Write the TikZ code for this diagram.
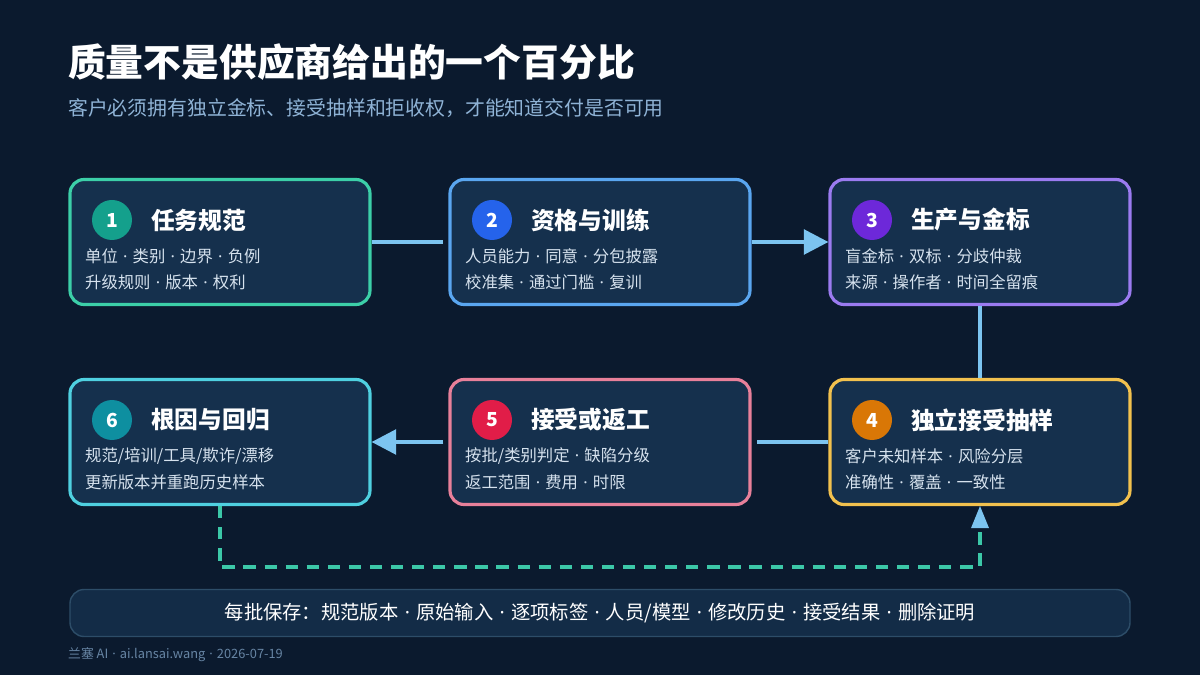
\documentclass[tikz,border=0pt]{standalone}
\usepackage{fontspec}
\setmainfont{Noto Sans CJK SC}
\newfontfamily\latf{Noto Sans}
\newcommand{\dt}{\hspace{0.32em}{\latf ·}\hspace{0.32em}}
\usetikzlibrary{arrows.meta}
\definecolor{bg}{HTML}{0B1A2E}
\definecolor{boxf}{HTML}{15304D}
\definecolor{conn}{HTML}{7CC4F0}
\definecolor{sub}{HTML}{8FB3D6}
\definecolor{body}{HTML}{D6E2EE}
\definecolor{e1}{HTML}{3CCFA8}\definecolor{e2}{HTML}{5AA6F0}\definecolor{e3}{HTML}{9B7BF0}
\definecolor{e4}{HTML}{F2C14E}\definecolor{e5}{HTML}{E8809A}\definecolor{e6}{HTML}{4FD0E0}
\definecolor{c1}{HTML}{14A08C}\definecolor{c2}{HTML}{2563EB}\definecolor{c3}{HTML}{6D28D9}
\definecolor{c4}{HTML}{D97706}\definecolor{c5}{HTML}{E11D48}\definecolor{c6}{HTML}{0E8FA0}
\definecolor{dash}{HTML}{3CC8A8}
\begin{document}
\begin{tikzpicture}[x=0.02cm,y=-0.02cm,
 box/.style={draw=#1,line width=1.8pt,fill=boxf,rounded corners=8pt,minimum width=300*0.02cm,minimum height=125*0.02cm,inner sep=0},
 num/.style={circle,fill=#1,minimum size=40*0.02cm,inner sep=0,text=white,font=\fontsize{11}{13}\selectfont\bfseries},
 ttl/.style={anchor=west,text=white,font=\fontsize{13.5}{15}\selectfont\bfseries},
 bd/.style={anchor=west,text=body,font=\fontsize{9.3}{11}\selectfont},
 con/.style={draw=conn,line width=2.3pt},
 tip/.style={-{Triangle[length=14pt,width=14pt]}}]
\fill[bg] (0,0) rectangle (1200,675);
\node[anchor=west,text=white,font=\fontsize{21.5}{24}\selectfont\bfseries] (title) at (62,62) {质量不是供应商给出的一个百分比};
\node[anchor=west,text=sub,font=\fontsize{11.3}{13}\selectfont] (subt) at (62,108) {客户必须拥有独立金标、接受抽样和拒收权，才能知道交付是否可用};
\node[box=e1] (b1) at (220,242) {};
\node[box=e2] (b2) at (600,242) {};
\node[box=e3] (b3) at (980,242) {};
\node[box=e4] (b4) at (980,442) {};
\node[box=e5] (b5) at (600,442) {};
\node[box=e6] (b6) at (220,442) {};
\def\content#1#2#3#4#5#6#7{%
 \node[num=#2] (n#1) at (#3,#4) {#1};
 \node[ttl] (t#1) at (#3+33,#4) {#5};
 \node[bd] (l#1a) at (#3-33,#4+36) {#6};
 \node[bd] (l#1b) at (#3-33,#4+62) {#7};}
\content{1}{c1}{112}{220}{任务规范}{单位\dt{}类别\dt{}边界\dt{}负例}{升级规则\dt{}版本\dt{}权利}
\content{2}{c2}{492}{220}{资格与训练}{人员能力\dt{}同意\dt{}分包披露}{校准集\dt{}通过门槛\dt{}复训}
\content{3}{c3}{872}{220}{生产与金标}{盲金标\dt{}双标\dt{}分歧仲裁}{来源\dt{}操作者\dt{}时间全留痕}
\content{4}{c4}{872}{420}{独立接受抽样}{客户未知样本\dt{}风险分层}{准确性\dt{}覆盖\dt{}一致性}
\content{5}{c5}{492}{420}{接受或返工}{按批/类别判定\dt{}缺陷分级}{返工范围\dt{}费用\dt{}时限}
\content{6}{c6}{112}{420}{根因与回归}{规范/培训/工具/欺诈/漂移}{更新版本并重跑历史样本}
\draw[con] (b1.east) -- ([xshift=-5*0.02cm]b2.west);
\draw[con,tip] (b2.east) -- (b3.west);
\draw[con] (b3.south) -- (b4.north);
\draw[con] (b4.west) -- ([xshift=5*0.02cm]b5.east);
\draw[con,tip] ([xshift=-5*0.02cm]b5.west) -- (b6.east);
\coordinate (d1) at (220,567);
\coordinate (d2) at (980,567);
\draw[draw=dash,line width=1.8pt,dash pattern=on 7pt off 5pt] (b6.south) -- (d1) -- (d2) -- ([yshift=-22*0.02cm]b4.south);
\fill[conn] (b4.south) -- ++(-9,22) -- ++(18,0) -- cycle;
\node[draw=conn!30!bg,line width=0.8pt,fill=boxf!80!bg,rounded corners=8pt,minimum width=1060*0.02cm,minimum height=47*0.02cm,text=white,font=\fontsize{11}{13}\selectfont] (bar) at (600,613) {每批保存：规范版本\dt{}原始输入\dt{}逐项标签\dt{}人员/模型\dt{}修改历史\dt{}接受结果\dt{}删除证明};
\node[anchor=west,text=sub!70!bg,font=\fontsize{7.3}{8}\selectfont] (foot) at (62,655) {兰塞 AI\dt{}ai.lansai.wang\dt{}2026-07-19};
\end{tikzpicture}
\end{document}
